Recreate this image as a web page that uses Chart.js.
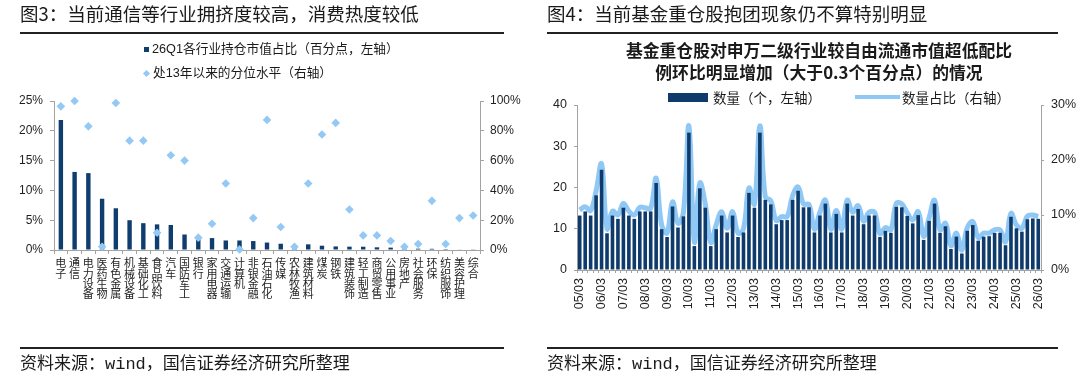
<!DOCTYPE html>
<html><head><meta charset="utf-8">
<script src="https://cdn.jsdelivr.net/npm/chart.js@4.4.1/dist/chart.umd.min.js"></script>
<style>
html,body{margin:0;padding:0;background:#fff;}
#wrap{position:relative;width:1080px;height:385px;overflow:hidden;font-family:"Noto Sans CJK SC","Liberation Sans",sans-serif;color:#1a1a1a;}
canvas{position:absolute;top:0;}
.t{position:absolute;white-space:nowrap;}
.rule{position:absolute;height:1.5px;background:#222;}
.src{font-family:"Liberation Mono","Noto Sans CJK SC",monospace;font-size:17px;line-height:22px;}
.leg{font-family:"Liberation Sans","Noto Sans CJK SC",sans-serif;font-size:12.7px;line-height:16px;}
</style></head><body>
<div id="wrap">
  <canvas id="cL" width="540" height="385" style="left:0px"></canvas>
  <canvas id="cR" width="540" height="385" style="left:540px"></canvas>

  <div class="t" style="left:20px;top:1px;font-size:18.5px;line-height:24px;">图3：当前通信等行业拥挤度较高，消费热度较低</div>
  <div class="rule" style="left:20px;top:32px;width:484px;"></div>
  <div class="t" style="left:547px;top:1px;font-size:18.5px;line-height:24px;">图4：当前基金重仓股抱团现象仍不算特别明显</div>
  <div class="rule" style="left:547px;top:32px;width:511px;"></div>

  <!-- left legend -->
  <div class="t" style="left:144px;top:46.5px;width:5px;height:5px;background:#0f3d6e;"></div>
  <div class="t leg" style="left:152px;top:41px;">26Q1各行业持仓市值占比（百分点，左轴）</div>
  <div class="t" style="left:144px;top:70.5px;width:5px;height:5px;background:#94c8f5;transform:rotate(45deg);"></div>
  <div class="t leg" style="left:153px;top:65px;">处13年以来的分位水平（右轴）</div>

  <!-- right title & legend -->
  <div class="t" style="left:619px;width:400px;text-align:center;top:39px;font-size:16.8px;line-height:22px;font-weight:bold;">基金重仓股对申万二级行业较自由流通市值超低配比<br>例环比明显增加（大于0.3个百分点）的情况</div>
  <div class="t" style="left:668px;top:92.5px;width:40px;height:9px;background:#0e3b6b;"></div>
  <div class="t" style="left:713px;top:88px;font-size:13.5px;line-height:18px;">数量（个，左轴）</div>
  <div class="t" style="left:855px;top:95px;width:45px;height:4px;background:#8fc7f5;"></div>
  <div class="t" style="left:902px;top:88px;font-size:13.5px;line-height:18px;">数量占比（右轴）</div>

  <div class="rule" style="left:20px;top:347px;width:484px;"></div>
  <div class="rule" style="left:547px;top:347px;width:511px;"></div>
  <div class="t src" style="left:20px;top:354px;">资料来源：wind，国信证券经济研究所整理</div>
  <div class="t src" style="left:547px;top:354px;">资料来源：wind，国信证券经济研究所整理</div>
</div>
<script>
// ---------- Figure 3 data ----------
const industries = ['电子','通信','电力设备','医药生物','有色金属','机械设备','基础化工','食品饮料','汽车','国防军工','银行','家用电器','交通运输','计算机','非银金融','石油石化','传媒','农林牧渔','建筑材料','煤炭','钢铁','建筑装饰','轻工制造','商贸零售','公用事业','房地产','社会服务','环保','纺织服饰','美容护理','综合'];
const holdShare = [21.8, 13.1, 12.9, 8.6, 7.0, 5.0, 4.5, 4.3, 4.2, 2.6, 1.8, 2.0, 1.6, 1.6, 1.5, 1.25, 1.05, 0.5, 0.95, 0.72, 0.6, 0.56, 0.55, 0.45, 0.4, 0.28, 0.22, 0.2, 0.15, 0.1, 0.05];
const percentile = [96.4, 100, 83, 2.2, 98.7, 73.4, 73.4, 11.6, 63.6, 60, 8.3, 17.6, 44.6, 0.4, 21.4, 87.3, 15.4, 2.2, 44.6, 77.5, 85.3, 27.2, 9.8, 9.8, 6.0, 2.2, 4.0, 33, 4.0, 21.4, 23.2];
const leftTicksL = [0, 5, 10, 15, 20, 25];
const rightTicksL = [0, 20, 40, 60, 80, 100];

// ---------- Figure 4 data ----------
const quarterYears = ['05','06','07','08','09','10','11','12','13','14','15','16','17','18','19','20','21','22','23','24','25','26'];
const quarterMonths = ['03','06','09','12'];
const lastQuarter = '26/03';
const countValues = [13.2,14.2,13.2,18.1,24.3,8.9,13.2,12.4,15.1,13.2,12.4,14.2,14.2,14.2,21.1,9.9,8.0,15.4,10.3,13.0,
  33.3,5.8,19.8,15.1,5.8,9.9,13.2,9.1,13.2,8.0,9.1,18.7,15.1,33.3,17.0,15.9,11.1,12.1,12.1,17.0,
  19.2,15.2,15.2,9.1,13.2,16.1,9.1,13.6,9.1,16.1,13.2,14.8,11.1,13.2,13.2,8.0,9.5,9.0,15.3,15.2,
  13.1,11.3,13.3,7.3,11.9,16.1,9.0,10.6,5.1,8.1,4.0,9.5,10.9,7.1,8.1,8.2,9.0,9.0,6.0,12.9,
  10.1,9.3,12.3,12.5,12.4];
const shareValues = [10.9,11.5,10.8,14.4,19.3,7.5,10.7,10.0,12.1,10.7,10.0,11.4,11.3,11.2,16.7,8.2,6.7,12.4,8.5,10.5,
  26.2,5.1,15.8,12.0,5.0,8.2,10.6,7.6,10.6,6.7,7.5,14.9,12.0,26.2,13.3,12.6,9.0,9.7,9.7,13.5,
  15.1,12.0,11.9,7.4,10.5,12.7,7.4,10.8,7.4,12.7,10.5,11.7,8.9,10.5,10.5,6.6,7.7,7.3,12.1,12.0,
  10.4,9.1,10.6,6.1,9.5,12.7,7.3,8.5,4.4,6.7,3.6,7.7,8.8,5.9,6.7,6.7,7.3,7.3,5.1,10.3,
  8.2,7.6,9.8,10.0,9.7];
const leftTicksR = [0, 10, 20, 30, 40];
const rightTicksR = [0, 10, 20, 30];

const quarterLabels = [];
outer: for (const y of quarterYears) {
  for (const m of quarterMonths) {
    const lab = y + '/' + m;
    quarterLabels.push(lab);
    if (lab === lastQuarter) break outer;
  }
}

const NUMFONT = "'Liberation Sans','Noto Sans CJK SC',sans-serif";
const AXIS = '#a3a3a3';
const TXT = '#1f1f1f';
const NAVY = '#0f3d6e';
const LIGHT = '#94c8f5';

function stepOf(arr){ return arr[1] - arr[0]; }

new Chart(document.getElementById('cL'), {
  type: 'bar',
  data: {
    labels: industries.map(s => s.split('')),
    datasets: [
      { type: 'line', label: '处13年以来的分位水平（右轴）', data: percentile, yAxisID: 'y1',
        showLine: false, pointStyle: 'rectRot', pointRadius: 4.3, pointHoverRadius: 4.3,
        pointBackgroundColor: LIGHT, pointBorderColor: LIGHT, pointBorderWidth: 0, order: 0, clip: false },
      { type: 'bar', label: '26Q1各行业持仓市值占比（百分点，左轴）', data: holdShare, yAxisID: 'y',
        backgroundColor: NAVY, barPercentage: 0.32, categoryPercentage: 1, order: 1 }
    ]
  },
  options: {
    responsive: false, animation: false, devicePixelRatio: 1,
    layout: { padding: { top: 101, left: 0, right: 0, bottom: 0 } },
    plugins: { legend: { display: false }, tooltip: { enabled: false }, title: { display: false } },
    scales: {
      x: {
        grid: { drawOnChartArea: false, drawTicks: true, tickLength: 4, color: AXIS, offset: true },
        border: { color: AXIS },
        ticks: { autoSkip: false, maxRotation: 0, minRotation: 0, padding: 4, color: TXT,
          font: { family: "'Noto Sans CJK SC'", size: 11, lineHeight: 0.93 } },
        afterFit(s) { s.height = 135; }
      },
      y: {
        position: 'left', min: leftTicksL[0], max: leftTicksL[leftTicksL.length - 1],
        ticks: { stepSize: stepOf(leftTicksL), callback: v => v + '%', padding: 7, color: TXT, font: { family: NUMFONT, size: 12 } },
        grid: { drawOnChartArea: false, tickLength: 4, color: AXIS },
        border: { color: AXIS },
        afterFit(s) { s.width = 54; }
      },
      y1: {
        position: 'right', min: rightTicksL[0], max: rightTicksL[rightTicksL.length - 1],
        ticks: { stepSize: stepOf(rightTicksL), callback: v => v + '%', padding: 6, color: TXT, font: { family: NUMFONT, size: 12 } },
        grid: { drawOnChartArea: false, tickLength: 4, color: AXIS },
        border: { color: AXIS },
        afterFit(s) { s.width = 60; }
      }
    }
  }
});

new Chart(document.getElementById('cR'), {
  type: 'bar',
  data: {
    labels: quarterLabels,
    datasets: [
      { type: 'bar', label: '数量（个，左轴）', data: countValues, yAxisID: 'y',
        backgroundColor: '#0e3b6b', barPercentage: 0.66, categoryPercentage: 1, order: 1 },
      { type: 'line', label: '数量占比（右轴）', data: shareValues, yAxisID: 'y1',
        borderColor: '#8fc7f5', borderWidth: 5, tension: 0.4, pointRadius: 0, order: 2, fill: false }
    ]
  },
  options: {
    responsive: false, animation: false, devicePixelRatio: 1,
    layout: { padding: { top: 105, left: 0, right: 0, bottom: 0 } },
    plugins: { legend: { display: false }, tooltip: { enabled: false }, title: { display: false } },
    scales: {
      x: {
        grid: { drawOnChartArea: false, drawTicks: true, tickLength: 3, color: AXIS, offset: true },
        border: { color: AXIS },
        ticks: { autoSkip: false, maxRotation: 90, minRotation: 90, padding: 5, color: TXT,
          font: { family: NUMFONT, size: 12.5 },
          callback(v, i) { return i % 4 === 0 ? this.getLabelForValue(v) : ''; } },
        afterFit(s) { s.height = 115; }
      },
      y: {
        position: 'left', min: leftTicksR[0], max: leftTicksR[leftTicksR.length - 1],
        ticks: { stepSize: stepOf(leftTicksR), padding: 7, color: TXT, font: { family: NUMFONT, size: 12.5 } },
        grid: { drawOnChartArea: false, tickLength: 3, color: AXIS },
        border: { color: AXIS },
        afterFit(s) { s.width = 37; }
      },
      y1: {
        position: 'right', min: rightTicksR[0], max: rightTicksR[rightTicksR.length - 1],
        ticks: { stepSize: stepOf(rightTicksR), callback: v => v + '%', padding: 7, color: TXT, font: { family: NUMFONT, size: 12.5 } },
        grid: { drawOnChartArea: false, tickLength: 3, color: AXIS },
        border: { color: AXIS },
        afterFit(s) { s.width = 39; }
      }
    }
  }
});
</script>
</body></html>
